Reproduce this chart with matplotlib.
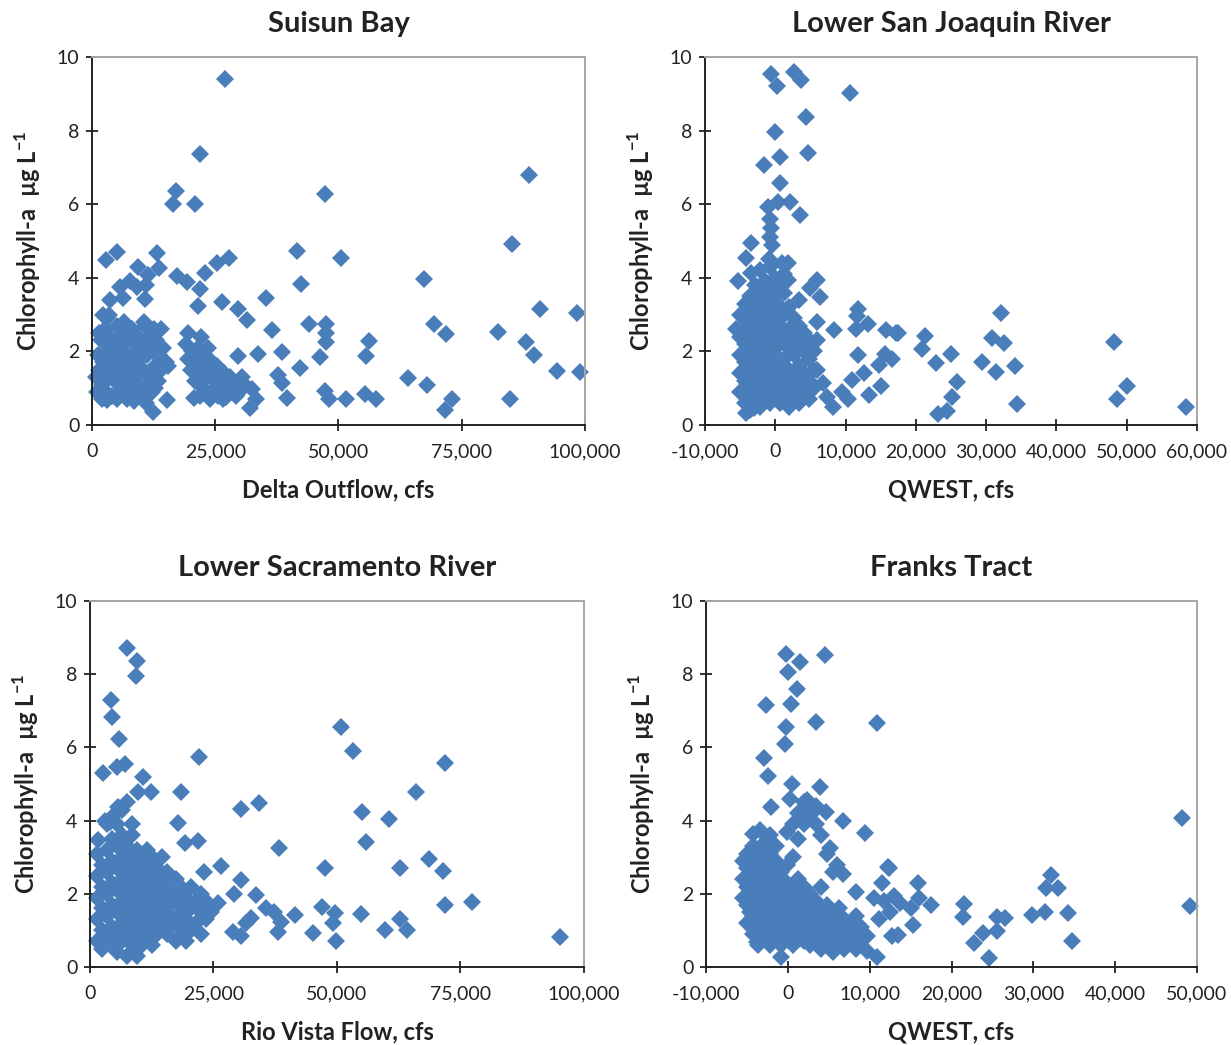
import matplotlib
matplotlib.use('Agg')
from matplotlib import pyplot as plt
from matplotlib.ticker import FuncFormatter

plt.rcParams['font.family'] = ['Lato', 'DejaVu Sans']
plt.rcParams['mathtext.fontset'] = 'custom'
plt.rcParams['mathtext.rm'] = 'Lato'
plt.rcParams['mathtext.bf'] = 'Lato:bold'

MARKER_COLOR = '#4a7ebb'
Y_LABEL = 'Chlorophyll-a  \u00b5g L$^{\\mathbf{-1}}$'

# (flow in thousand cfs, chlorophyll-a ug/L)
suisun_points = [
    (27.0, 9.39), (21.9, 7.36), (17.0, 6.35), (16.5, 6.0), (20.8, 6.0), (47.3, 6.28),
    (2.8, 4.47), (5.0, 4.71), (9.3, 4.3), (13.1, 4.67), (13.7, 4.26), (11.4, 4.08),
    (17.2, 4.05), (19.2, 3.88), (22.9, 4.12), (25.3, 4.39), (27.7, 4.53), (41.6, 4.73),
    (50.6, 4.55), (42.5, 3.82), (5.7, 3.76), (7.7, 3.9), (9.1, 3.74), (11.0, 3.8),
    (6.2, 3.44), (10.7, 3.41), (3.7, 3.4), (2.3, 2.99), (3.5, 3.0), (21.9, 3.69),
    (21.6, 3.22), (26.3, 3.35), (29.7, 3.14), (31.5, 2.85), (35.4, 3.46), (36.6, 2.58),
    (44.1, 2.74), (47.5, 2.74), (47.5, 2.5), (47.5, 2.25), (46.2, 1.86), (38.5, 1.99),
    (42.1, 1.56), (33.6, 1.93), (29.7, 1.88), (37.8, 1.36), (38.5, 1.15), (39.5, 0.74),
    (47.3, 0.92), (48.1, 0.7), (51.5, 0.72), (32.0, 0.45), (33.2, 0.72), (32.4, 0.97),
    (30.5, 1.31), (15.3, 0.68), (20.7, 0.74), (12.3, 0.36), (3.0, 0.68), (19.5, 2.49),
    (22.2, 2.4), (15.5, 1.6),
    (88.6, 6.79), (85.1, 4.92), (67.4, 3.98), (69.4, 2.74), (71.8, 2.46), (56.2, 2.29),
    (55.5, 1.87), (64.2, 1.27), (67.9, 1.1), (55.4, 0.83), (57.6, 0.72), (73.1, 0.72),
    (71.6, 0.41), (82.3, 2.52), (90.9, 3.15), (88.0, 2.25), (89.7, 1.9), (98.3, 3.03),
    (94.4, 1.47), (99.0, 1.45), (84.8, 0.71),
    # low-flow cluster
    (1.2, 1.9), (1.5, 1.5), (1.8, 2.3), (2.0, 1.1), (2.3, 1.7), (2.6, 2.6), (2.9, 0.9),
    (3.1, 2.0), (3.3, 1.3), (3.6, 2.4), (3.9, 1.6), (4.1, 0.8), (4.3, 2.1), (4.6, 1.2),
    (4.8, 1.8), (5.1, 2.7), (5.3, 1.4), (5.6, 0.9), (5.8, 2.2), (6.1, 1.6), (6.3, 2.5),
    (6.6, 1.1), (6.9, 1.9), (7.2, 0.7), (7.4, 2.3), (7.7, 1.4), (8.0, 1.7), (8.2, 2.6),
    (8.5, 1.0), (8.8, 2.0), (9.0, 1.3), (9.3, 2.4), (9.6, 0.8), (9.8, 1.8), (10.1, 2.2),
    (10.4, 1.5), (10.7, 2.7), (11.0, 1.1), (11.2, 1.9), (11.5, 2.4), (11.8, 1.4),
    (12.1, 0.9), (12.4, 2.0), (12.7, 1.6), (13.0, 2.3), (13.3, 1.2), (13.7, 1.9),
    (14.1, 1.5), (14.5, 2.1), (15.0, 1.7), (3.0, 2.9), (6.5, 2.8), (10.5, 2.8),
    (12.5, 2.6), (1.5, 2.5), (0.8, 1.3), (2.1, 0.7), (5.0, 0.7), (8.6, 0.65), (11.0, 0.6),
    (1.0, 0.9), (2.5, 1.3), (4.0, 1.9), (5.5, 2.4), (7.0, 1.3), (8.5, 2.3), (10.0, 1.0),
    (11.6, 2.0), (13.0, 1.5), (14.0, 2.6), (9.5, 1.6), (6.0, 1.9), (12.8, 1.0), (7.8, 1.0),
    # mid-flow cluster
    (19.0, 2.2), (19.5, 1.8), (20.0, 1.5), (20.3, 2.0), (20.8, 1.2), (21.2, 1.7),
    (21.5, 2.1), (21.9, 1.4), (22.3, 1.9), (22.6, 1.0), (23.0, 1.6), (23.4, 1.3),
    (23.8, 1.8), (24.1, 0.9), (24.5, 1.5), (24.9, 1.2), (25.3, 1.6), (25.6, 0.8),
    (26.0, 1.3), (26.4, 1.0), (26.8, 1.4), (27.2, 0.75), (27.6, 1.1), (28.0, 1.3),
    (28.4, 0.9), (28.9, 1.1), (29.3, 0.8), (29.8, 1.2), (30.3, 0.95), (31.0, 1.1),
    (22.0, 0.8), (24.0, 0.7), (26.5, 0.7), (23.5, 2.1),
]

sanjoaquin_points = [
    (-0.65, 9.54), (0.3, 9.21), (2.6, 9.6), (3.7, 9.38), (10.7, 9.03), (4.3, 8.38),
    (0.0, 7.95), (4.6, 7.4), (0.7, 7.29), (-1.6, 7.07), (0.7, 6.57), (0.4, 6.07),
    (2.1, 6.07), (-1.0, 5.93), (3.5, 5.71), (-0.8, 5.6), (-0.6, 5.35), (-0.7, 5.1),
    (-0.4, 4.9), (-3.5, 4.94), (-4.1, 4.53), (-5.3, 3.9), (-3.4, 4.12), (-0.9, 4.5),
    (0.9, 4.4), (1.8, 4.39), (1.8, 3.95), (6.0, 3.94), (4.9, 3.71), (6.4, 3.49),
    (11.8, 3.14), (11.6, 2.95), (13.2, 2.74), (11.5, 2.6), (8.3, 2.58), (15.8, 2.58),
    (17.2, 2.5), (11.8, 1.9), (15.6, 1.93), (14.7, 1.63), (12.6, 1.42), (15.1, 1.06),
    (13.3, 0.82), (10.9, 1.22), (10.3, 0.7), (8.2, 0.5), (6.8, 1.15), (5.9, 1.5),
    (5.9, 2.3), (5.9, 2.8), (-4.1, 0.32), (-3.0, 0.45), (-5.6, 2.6), (16.6, 1.8),
    (9.5, 0.9), (7.4, 0.75),
    (17.4, 2.49), (21.3, 2.42), (20.9, 2.07), (22.8, 1.68), (25.0, 1.92), (25.8, 1.18),
    (25.2, 0.77), (23.2, 0.29), (24.5, 0.38), (32.1, 3.03), (30.9, 2.37), (32.6, 2.22),
    (29.4, 1.72), (31.4, 1.45), (34.1, 1.6), (34.4, 0.57), (48.2, 2.25), (50.1, 1.06),
    (48.6, 0.72), (58.4, 0.48),
    # dense cluster near zero
    (-5.0, 0.9), (-5.0, 1.4), (-5.0, 1.9), (-5.0, 2.4), (-5.0, 3.0),
    (-4.3, 0.6), (-4.3, 1.2), (-4.3, 1.7), (-4.3, 2.2), (-4.3, 2.7), (-4.3, 3.3),
    (-3.6, 0.4), (-3.6, 0.9), (-3.6, 1.5), (-3.6, 2.0), (-3.6, 2.5), (-3.6, 3.0), (-3.6, 3.5),
    (-2.9, 0.7), (-2.9, 1.2), (-2.9, 1.7), (-2.9, 2.3), (-2.9, 2.8), (-2.9, 3.3), (-2.9, 3.8),
    (-2.2, 0.5), (-2.2, 1.0), (-2.2, 1.5), (-2.2, 2.0), (-2.2, 2.6), (-2.2, 3.1), (-2.2, 3.6),
    (-2.2, 4.2),
    (-1.5, 0.8), (-1.5, 1.3), (-1.5, 1.8), (-1.5, 2.3), (-1.5, 2.9), (-1.5, 3.4), (-1.5, 3.9),
    (-0.8, 0.6), (-0.8, 1.1), (-0.8, 1.6), (-0.8, 2.1), (-0.8, 2.6), (-0.8, 3.2), (-0.8, 3.7),
    (-0.8, 4.3),
    (-0.1, 0.9), (-0.1, 1.4), (-0.1, 1.9), (-0.1, 2.4), (-0.1, 2.9), (-0.1, 3.5), (-0.1, 4.0),
    (0.6, 0.6), (0.6, 1.1), (0.6, 1.6), (0.6, 2.2), (0.6, 2.7), (0.6, 3.2), (0.6, 3.8),
    (1.3, 0.8), (1.3, 1.3), (1.3, 1.8), (1.3, 2.4), (1.3, 3.0), (1.3, 3.6), (1.3, 4.1),
    (2.0, 0.5), (2.0, 1.0), (2.0, 1.5), (2.0, 2.1), (2.0, 2.6), (2.0, 3.2),
    (2.7, 0.8), (2.7, 1.3), (2.7, 1.9), (2.7, 2.4), (2.7, 2.9),
    (3.4, 0.6), (3.4, 1.1), (3.4, 1.6), (3.4, 2.2), (3.4, 2.7), (3.4, 3.4),
    (4.1, 0.9), (4.1, 1.4), (4.1, 2.0), (4.1, 2.5),
    (4.8, 0.7), (4.8, 1.2), (4.8, 1.8), (4.8, 2.3),
    (5.5, 1.0), (5.5, 1.5), (5.5, 2.0),
]

sacramento_points = [
    (7.4, 8.73), (9.6, 8.37), (9.3, 7.95), (4.2, 7.31), (4.5, 6.84), (5.9, 6.23),
    (2.7, 5.31), (5.4, 5.47), (7.1, 5.55), (22.1, 5.75), (10.8, 5.18), (9.8, 4.79),
    (12.3, 4.79), (18.4, 4.79), (30.6, 4.33), (34.2, 4.49), (17.8, 3.93), (19.2, 3.38),
    (21.8, 3.45), (38.2, 3.24), (1.7, 3.47), (26.6, 2.76), (23.0, 2.6), (47.5, 2.71),
    (50.8, 6.56), (41.5, 1.42), (46.9, 1.65), (49.6, 1.47), (49.2, 1.2), (45.1, 0.92),
    (49.8, 0.72), (30.6, 2.38), (33.7, 1.97), (29.2, 2.0), (26.0, 1.74), (35.6, 1.6),
    (37.2, 1.5), (38.7, 1.24), (38.1, 0.97), (32.5, 1.35), (30.6, 0.85), (28.9, 0.95),
    (31.5, 1.2), (5.7, 4.38), (7.4, 4.5), (4.1, 3.95), (8.5, 3.9), (3.0, 4.0),
    (53.2, 5.9), (71.8, 5.58), (65.9, 4.77), (55.1, 4.24), (60.5, 4.04), (55.8, 3.41),
    (68.7, 2.95), (62.8, 2.72), (71.4, 2.62), (71.9, 1.69), (77.3, 1.78), (54.9, 1.45),
    (62.8, 1.3), (59.7, 1.01), (64.2, 1.01), (95.2, 0.83),
    # dense cluster at low flow
    (1.5, 0.7), (1.5, 1.3), (1.5, 1.9), (1.5, 2.5), (1.5, 3.1),
    (2.5, 0.5), (2.5, 1.0), (2.5, 1.6), (2.5, 2.2), (2.5, 2.8),
    (3.5, 0.8), (3.5, 1.4), (3.5, 2.0), (3.5, 2.6), (3.5, 3.2), (3.5, 3.9),
    (4.5, 0.6), (4.5, 1.1), (4.5, 1.7), (4.5, 2.3), (4.5, 2.9), (4.5, 3.5), (4.5, 4.1),
    (5.5, 0.4), (5.5, 0.9), (5.5, 1.5), (5.5, 2.1), (5.5, 2.7), (5.5, 3.3), (5.5, 3.9),
    (6.5, 0.7), (6.5, 1.2), (6.5, 1.8), (6.5, 2.4), (6.5, 3.0), (6.5, 3.6), (6.5, 4.3),
    (7.5, 0.3), (7.5, 0.9), (7.5, 1.5), (7.5, 2.1), (7.5, 2.7), (7.5, 3.3),
    (8.5, 0.6), (8.5, 1.2), (8.5, 1.8), (8.5, 2.4), (8.5, 3.0), (8.5, 3.6),
    (9.5, 0.3), (9.5, 0.9), (9.5, 1.5), (9.5, 2.1), (9.5, 2.7), (9.5, 3.2),
    (10.5, 0.6), (10.5, 1.2), (10.5, 1.8), (10.5, 2.4), (10.5, 3.0),
    (11.5, 0.9), (11.5, 1.5), (11.5, 2.1), (11.5, 2.7), (11.5, 3.2),
    (12.5, 0.6), (12.5, 1.2), (12.5, 1.8), (12.5, 2.4), (12.5, 3.0),
    (13.5, 0.9), (13.5, 1.5), (13.5, 2.1), (13.5, 2.7),
    (14.5, 1.2), (14.5, 1.8), (14.5, 2.4), (14.5, 3.0),
    (15.5, 0.9), (15.5, 1.5), (15.5, 2.1), (15.5, 2.6),
    (16.5, 1.2), (16.5, 1.8), (16.5, 2.4),
    (17.5, 0.7), (17.5, 1.3), (17.5, 1.9), (17.5, 2.4),
    (18.5, 1.0), (18.5, 1.6), (18.5, 2.2),
    (19.5, 0.7), (19.5, 1.3), (19.5, 1.9),
    (20.5, 1.0), (20.5, 1.6), (20.5, 2.2),
    (21.5, 1.2), (21.5, 1.8),
    (22.5, 0.9), (22.5, 1.5), (22.5, 2.0),
    (23.5, 1.3), (23.5, 1.8), (24.5, 1.5),
]

franks_points = [
    (-0.2, 8.55), (1.5, 8.34), (4.5, 8.54), (0.0, 8.07), (1.1, 7.6), (0.4, 7.2),
    (-2.7, 7.16), (3.4, 6.69), (10.9, 6.66), (-0.2, 6.55), (-0.3, 6.09), (-2.9, 5.7),
    (-2.4, 5.22), (0.5, 4.99), (3.9, 4.93), (0.3, 4.6), (-2.0, 4.38), (2.3, 4.56),
    (3.3, 4.3), (4.7, 4.25), (6.7, 4.0), (9.4, 3.67), (-4.2, 3.63), (-3.4, 3.75),
    (5.2, 3.24), (6.0, 2.8), (6.7, 2.55), (8.3, 2.06), (12.2, 2.74), (-4.6, 1.51),
    (-3.8, 0.69), (-0.8, 0.28), (10.9, 0.28), (12.7, 0.85),
    (48.2, 4.08), (49.1, 1.67), (32.2, 2.51), (31.5, 2.15), (33.0, 2.17), (31.4, 1.51),
    (29.8, 1.42), (34.2, 1.47), (34.7, 0.71), (21.5, 1.72), (21.4, 1.37), (25.5, 1.37),
    (26.5, 1.33), (25.6, 0.99), (23.8, 0.92), (22.7, 0.66), (24.6, 0.24), (15.9, 2.3),
    (16.0, 1.9), (17.5, 1.69), (15.1, 1.6), (15.3, 1.15), (13.5, 0.87), (13.7, 1.74),
    (13.0, 1.95), (12.4, 2.7), (11.5, 2.3), (11.8, 1.8), (12.5, 1.5), (11.2, 1.3),
    (10.5, 1.9),
    # dense cluster near zero
    (-5.5, 1.9), (-5.5, 2.4), (-5.5, 2.9),
    (-5.0, 1.2), (-5.0, 1.7), (-5.0, 2.2), (-5.0, 2.7), (-5.0, 3.1),
    (-4.3, 0.9), (-4.3, 1.4), (-4.3, 1.9), (-4.3, 2.4), (-4.3, 2.9), (-4.3, 3.3),
    (-3.6, 0.6), (-3.6, 1.1), (-3.6, 1.6), (-3.6, 2.1), (-3.6, 2.6), (-3.6, 3.1),
    (-2.9, 0.9), (-2.9, 1.4), (-2.9, 1.9), (-2.9, 2.4), (-2.9, 2.9), (-2.9, 3.4),
    (-2.2, 0.6), (-2.2, 1.1), (-2.2, 1.6), (-2.2, 2.1), (-2.2, 2.6), (-2.2, 3.1), (-2.2, 3.6),
    (-1.5, 0.9), (-1.5, 1.4), (-1.5, 1.9), (-1.5, 2.4), (-1.5, 2.9), (-1.5, 3.3),
    (-0.8, 0.6), (-0.8, 1.1), (-0.8, 1.6), (-0.8, 2.1), (-0.8, 2.6),
    (-0.1, 0.8), (-0.1, 1.3), (-0.1, 1.8), (-0.1, 2.3), (-0.1, 2.8), (-0.1, 3.7),
    (0.6, 0.6), (0.6, 1.1), (0.6, 1.6), (0.6, 2.1), (0.6, 3.0), (0.6, 3.9),
    (1.3, 0.9), (1.3, 1.4), (1.3, 1.9), (1.3, 2.4), (1.3, 3.5), (1.3, 4.2),
    (2.0, 0.7), (2.0, 1.2), (2.0, 1.7), (2.0, 2.2), (2.0, 3.9), (2.0, 4.5),
    (2.7, 0.6), (2.7, 1.0), (2.7, 1.5), (2.7, 2.0), (2.7, 4.2),
    (3.4, 0.8), (3.4, 1.3), (3.4, 1.8), (3.4, 4.4), (3.4, 3.9),
    (4.1, 0.5), (4.1, 1.0), (4.1, 1.5), (4.1, 2.2), (4.1, 3.6),
    (4.8, 0.7), (4.8, 1.2), (4.8, 1.7), (4.8, 3.1),
    (5.5, 0.4), (5.5, 0.9), (5.5, 1.4), (5.5, 2.6),
    (6.2, 0.7), (6.2, 1.1), (6.2, 1.6),
    (6.9, 0.5), (6.9, 0.9), (6.9, 1.3),
    (7.6, 0.7), (7.6, 1.1),
    (8.3, 0.5), (8.3, 0.9), (8.3, 1.4),
    (9.0, 0.7), (9.0, 1.1),
    (9.7, 0.45), (9.7, 0.85),
]

panel_titles = ['Suisun Bay', 'Lower San Joaquin River',
                'Lower Sacramento River', 'Franks Tract']
panel_xlabels = ['Delta Outflow, cfs', 'QWEST, cfs',
                 'Rio Vista Flow, cfs', 'QWEST, cfs']
panel_xlims = [(0, 100000), (-10000, 60000), (0, 100000), (-10000, 50000)]
panel_xticks = [
    [0, 25000, 50000, 75000, 100000],
    [-10000, 0, 10000, 20000, 30000, 40000, 50000, 60000],
    [0, 25000, 50000, 75000, 100000],
    [-10000, 0, 10000, 20000, 30000, 40000, 50000],
]
panel_data = [suisun_points, sanjoaquin_points, sacramento_points, franks_points]

# axes rectangles in figure fractions
panel_rects = [
    [0.0747, 0.5933, 0.4005, 0.3522],
    [0.5727, 0.5933, 0.3997, 0.3522],
    [0.0731, 0.0746, 0.4013, 0.3502],
    [0.5735, 0.0746, 0.3989, 0.3502],
]


def style_axes(ax, xlim, xticks):
    ax.set_xlim(*xlim)
    ax.set_ylim(0, 10)
    ax.set_xticks(xticks)
    ax.set_yticks([0, 2, 4, 6, 8, 10])
    ax.xaxis.set_major_formatter(FuncFormatter(lambda v, p: f'{v:,.0f}'))
    for side in ['left', 'bottom']:
        ax.spines[side].set_color('#222222')
        ax.spines[side].set_linewidth(1.4)
    for side in ['top', 'right']:
        ax.spines[side].set_color('#a6a6a6')
        ax.spines[side].set_linewidth(1.4)
    ax.tick_params(direction='inout', length=8, width=1.3, color='#222222',
                   labelsize=14, labelcolor='#222222')
    ax.tick_params(axis='x', pad=9)
    ax.tick_params(axis='y', pad=5)


fig = plt.figure(figsize=(12.31, 10.45), dpi=100)

for i in range(4):
    ax = fig.add_axes(panel_rects[i])
    xs = [p[0] * 1000 for p in panel_data[i]]
    ys = [p[1] for p in panel_data[i]]
    ax.plot(xs, ys, linestyle='none', marker='D', markersize=8.8,
            color=MARKER_COLOR, markeredgewidth=0, clip_on=False)
    style_axes(ax, panel_xlims[i], panel_xticks[i])
    ax.set_title(panel_titles[i], fontsize=21, fontweight='bold',
                 color='#222222', pad=18)
    ax.set_xlabel(panel_xlabels[i], fontsize=17, fontweight='bold',
                  color='#222222', labelpad=13)
    ax.set_ylabel(Y_LABEL, fontsize=17, fontweight='bold',
                  color='#222222', labelpad=10)

fig.savefig('out.png', dpi=100)
